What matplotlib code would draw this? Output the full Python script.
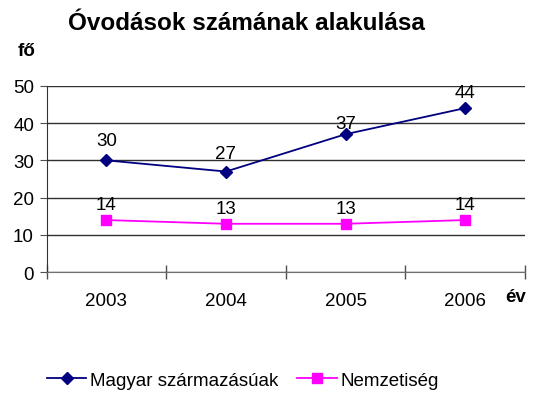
import matplotlib
matplotlib.use("Agg")
import matplotlib.pyplot as plt
from matplotlib.lines import Line2D

years = ["2003", "2004", "2005", "2006"]
magyar = [30, 27, 37, 44]
nemzet = [14, 13, 13, 14]
yticks = [0, 10, 20, 30, 40, 50]

# label gaps (pixels) above the markers, as placed in the original
magyar_gap = [15, 14, 6, 11]
nemzet_gap = [11, 11, 11, 11]

plt.rcParams['font.family'] = ['Liberation Sans', 'DejaVu Sans']
fig = plt.figure(figsize=(5.39, 4.06), dpi=100)
L, R, T, B = 46.5, 525, 86.7, 273.3
ax = fig.add_axes([L/539, 1-B/406, (R-L)/539, (B-T)/406])

FS = 13.5
x = [i + 0.5 for i in range(len(years))]
ax.plot(x, magyar, color='#000080', marker='D', markersize=6.5, lw=1.3, zorder=3, clip_on=False)
ax.plot(x, nemzet, color='#FF00FF', marker='s', markersize=7.5, lw=1.3, zorder=3, clip_on=False)
for xi, v, g in zip(x, magyar, magyar_gap):
    ax.annotate(str(v), (xi, v), xytext=(0, g*0.72), textcoords='offset points', ha='center', va='baseline', fontsize=FS)
for xi, v, g in zip(x, nemzet, nemzet_gap):
    ax.annotate(str(v), (xi, v), xytext=(0, g*0.72), textcoords='offset points', ha='center', va='baseline', fontsize=FS)

ax.set_xlim(0, 4)
ax.set_ylim(0, 50)
ax.set_yticks(yticks)
ax.set_yticklabels([str(t) for t in yticks], fontsize=FS)
ax.set_xticks([0, 1, 2, 3, 4])
ax.set_xticklabels([])
ax.set_xticks(x, minor=True)
ax.set_xticklabels(years, minor=True, fontsize=FS)
ax.tick_params(axis='x', which='minor', length=0, pad=14)
ax.tick_params(axis='x', which='major', direction='inout', length=10, color='#505050', width=1)
ax.tick_params(axis='y', length=5, color='#505050', pad=4)
ax.grid(axis='y', color='#303030', lw=1)
ax.set_axisbelow(True)
for s in ['top', 'right']:
    ax.spines[s].set_visible(False)
ax.spines['left'].set_color('#303030')
ax.spines['bottom'].set_color('#707070')

fig.text(246/539, 1-23/406, "Óvodások számának alakulása", fontsize=17.5, fontweight='bold', ha='center', va='center')
fig.text(18/539, 1-56/406, "fő", fontsize=13.5, fontweight='bold', ha='left', va='baseline')
fig.text(516/539, 1-297/406, "év", fontsize=13.5, fontweight='bold', ha='center', va='center')

handles = [Line2D([], [], color='#000080', marker='D', markersize=6.5, lw=1.3),
           Line2D([], [], color='#FF00FF', marker='s', markersize=7.5, lw=1.3)]
fig.legend(handles, ["Magyar származásúak", "Nemzetiség"], loc='center left', bbox_to_anchor=(47/539, 1-381/406),
           ncol=2, frameon=False, fontsize=FS, handlelength=2.1, handletextpad=0.2, columnspacing=1.0,
           borderpad=0, borderaxespad=0)

fig.savefig("out.png", dpi=100)
